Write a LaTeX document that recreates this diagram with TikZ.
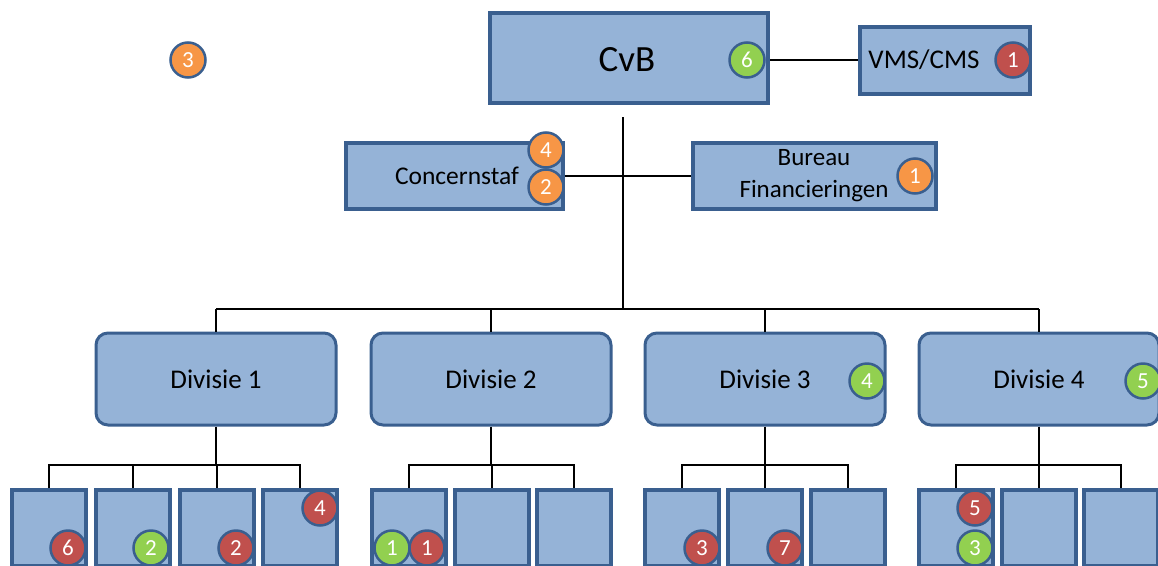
\documentclass[tikz,border=0pt]{standalone}
\usepackage{fontspec}
\setmainfont{Carlito}
\definecolor{boxfill}{HTML}{95B3D7}
\definecolor{boxline}{HTML}{3A5F8F}
\definecolor{bgreen}{HTML}{92D050}
\definecolor{bred}{HTML}{C0504D}
\definecolor{borange}{HTML}{F79646}
\tikzset{
  orgbox/.style={draw=boxline, fill=boxfill, line width=4pt, inner sep=0pt},
  divbox/.style={orgbox, rounded corners=12pt, line width=3pt, minimum width=240pt, minimum height=92pt, font=\fontsize{27}{30}\selectfont},
  childbox/.style={orgbox, line width=4pt, minimum width=74pt, minimum height=76pt},
  badge/.style={circle, draw=boxline, line width=2.5pt, minimum size=35pt, inner sep=0pt, text=white, font=\fontsize{23}{25}\selectfont},
  gb/.style={badge, fill=bgreen},
  rb/.style={badge, fill=bred},
  ob/.style={badge, fill=borange},
  conn/.style={draw=black, line width=1.5pt},
}
\begin{document}
\begin{tikzpicture}[x=1pt, y=-1pt]
\useasboundingbox (0,0) rectangle (1158,565);
% top level
\node[orgbox, minimum width=278pt, minimum height=90pt] (cvb) at (629,58) {};
\node[font=\fontsize{37}{40}\selectfont] (cvbt) at (627,60) {CvB};
\node[orgbox, minimum width=170pt, minimum height=67pt] (vms) at (945,60) {};
\node[font=\fontsize{27}{30}\selectfont] (vmst) at (924,60) {VMS/CMS};
\node[orgbox, minimum width=217pt, minimum height=66pt] (cs) at (454,176) {};
\node[font=\fontsize{25.5}{28}\selectfont] (cst) at (457,176) {Concernstaf};
\node[orgbox, minimum width=243pt, minimum height=66pt] (bf) at (814,176) {};
\node[font=\fontsize{25}{32}\selectfont, align=center, inner sep=0pt] (bft) at (814,176) {Bureau\\Financieringen};
% connectors top
\draw[conn] (cvb.east |- 0,60) -- (vms.west |- 0,60);
\coordinate (trunktop) at (623,117);
\coordinate (trunkbot) at (623,309);
\draw[conn] (cs.east) -- (bf.west);
\draw[conn] (trunktop) -- (trunkbot);
% divisions
\node[divbox] (d1) at (216,379) {Divisie 1};
\node[divbox] (d2) at (491,379) {Divisie 2};
\node[divbox] (d3) at (765,379) {Divisie 3};
\node[divbox] (d4) at (1039,379) {Divisie 4};
\draw[conn] (d1.north |- trunkbot) -- (d4.north |- trunkbot);
\foreach \d in {d1,d2,d3,d4}{\draw[conn] (\d.north |- trunkbot) -- (\d.north);}
% children
\foreach \n/\x in {c11/49,c12/133,c13/217,c14/300,c21/409,c22/492,c23/574,c31/682,c32/765,c33/848,c41/956,c42/1039,c43/1121}{
  \node[childbox] (\n) at (\x,528) {};
}
\foreach \p/\a/\b in {d1/c11/c14,d2/c21/c23,d3/c31/c33,d4/c41/c43}{
  \draw[conn] (\p.south) -- (\p.south |- 0,465);
  \draw[conn] (\a.north) -- (\a.north |- 0,465) -- (\b.north |- 0,465) -- (\b.north);
}
\foreach \n in {c12,c13,c22,c32,c42}{\draw[conn] (\n.north |- 0,465) -- (\n.north);}
% badges
\node[ob] (b0) at (188,60) {3};
\node[gb] (b1) at (747,60) {6};
\node[rb] (b2) at (1013,60) {1};
\node[ob] (b3) at (546,150) {4};
\node[ob] (b4) at (546,187) {2};
\node[ob] (b5) at (915,176) {1};
\node[gb] (b6) at (867,381) {4};
\node[gb] (b7) at (1143,381) {5};
\node[rb] (b8) at (68,548) {6};
\node[gb] (b9) at (151,548) {2};
\node[rb] (b10) at (236,548) {2};
\node[rb] (b11) at (320,508) {4};
\node[gb] (b12) at (392,548) {1};
\node[rb] (b13) at (427,548) {1};
\node[rb] (b14) at (702,548) {3};
\node[rb] (b15) at (785,548) {7};
\node[rb] (b16) at (975,508) {5};
\node[gb] (b17) at (975,548) {3};
\end{tikzpicture}
\end{document}
